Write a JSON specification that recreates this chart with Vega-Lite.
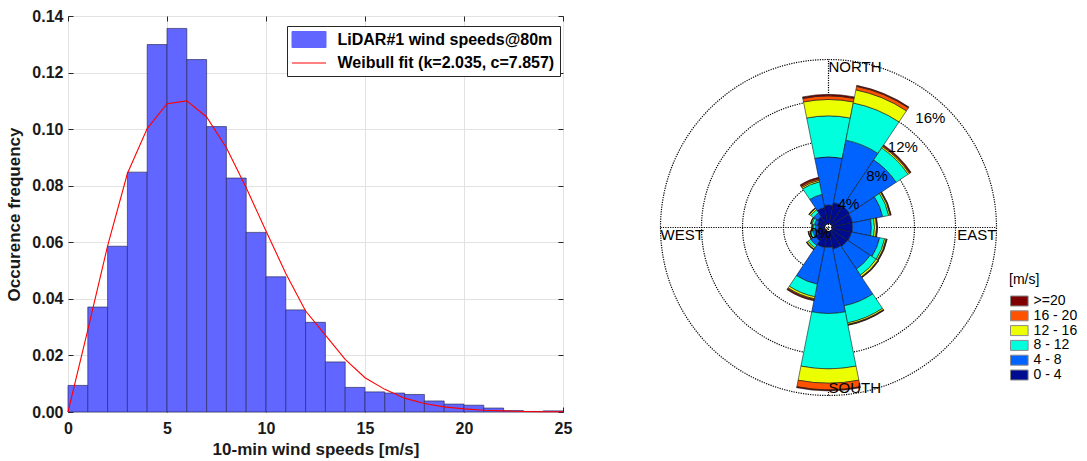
{
  "$schema": "https://vega.github.io/schema/vega-lite/v6.json",
  "background": "white",
  "padding": {"left": 5, "top": 7, "right": 5, "bottom": 5},
  "bounds": "flush",
  "spacing": 54,
  "config": {
    "font": "Liberation Sans",
    "view": {"stroke": null},
    "axis": {"labelFont": "Liberation Sans", "titleFont": "Liberation Sans", "labelColor": "#1a1a1a", "titleColor": "#1a1a1a", "tickColor": "#262626", "gridColor": "#e2e2e2", "gridWidth": 1}
  },
  "resolve": {"scale": {"color": "independent"}, "legend": {"color": "independent"}},
  "datasets": {
    "hist": [
      {"x0": 0, "x1": 1, "freq": 0.0094}, {"x0": 1, "x1": 2, "freq": 0.0371}, {"x0": 2, "x1": 3, "freq": 0.0586},
      {"x0": 3, "x1": 4, "freq": 0.0848}, {"x0": 4, "x1": 5, "freq": 0.1299}, {"x0": 5, "x1": 6, "freq": 0.1356},
      {"x0": 6, "x1": 7, "freq": 0.1246}, {"x0": 7, "x1": 8, "freq": 0.1009}, {"x0": 8, "x1": 9, "freq": 0.0827},
      {"x0": 9, "x1": 10, "freq": 0.0635}, {"x0": 10, "x1": 11, "freq": 0.0478}, {"x0": 11, "x1": 12, "freq": 0.0361},
      {"x0": 12, "x1": 13, "freq": 0.0317}, {"x0": 13, "x1": 14, "freq": 0.0177}, {"x0": 14, "x1": 15, "freq": 0.0087},
      {"x0": 15, "x1": 16, "freq": 0.0071}, {"x0": 16, "x1": 17, "freq": 0.0067}, {"x0": 17, "x1": 18, "freq": 0.0062},
      {"x0": 18, "x1": 19, "freq": 0.0039}, {"x0": 19, "x1": 20, "freq": 0.0028}, {"x0": 20, "x1": 21, "freq": 0.0024},
      {"x0": 21, "x1": 22, "freq": 0.0014}, {"x0": 22, "x1": 23, "freq": 0.0005}, {"x0": 23, "x1": 24, "freq": 0.0002},
      {"x0": 24, "x1": 25, "freq": 0.0004}
    ],
    "fit": [
      {"ws": 0, "pdf": 0}, {"ws": 1, "pdf": 0.029}, {"ws": 2, "pdf": 0.0587}, {"ws": 3, "pdf": 0.0843},
      {"ws": 4, "pdf": 0.1002}, {"ws": 5, "pdf": 0.109}, {"ws": 6, "pdf": 0.110}, {"ws": 7, "pdf": 0.1043},
      {"ws": 8, "pdf": 0.0934}, {"ws": 9, "pdf": 0.0793}, {"ws": 10, "pdf": 0.064}, {"ws": 11, "pdf": 0.049},
      {"ws": 12, "pdf": 0.0357}, {"ws": 13, "pdf": 0.0272}, {"ws": 14, "pdf": 0.0186}, {"ws": 15, "pdf": 0.0121},
      {"ws": 16, "pdf": 0.008}, {"ws": 17, "pdf": 0.0049}, {"ws": 18, "pdf": 0.003}, {"ws": 19, "pdf": 0.0018},
      {"ws": 20, "pdf": 0.0011}, {"ws": 21, "pdf": 0.0006}, {"ws": 22, "pdf": 0.0004}, {"ws": 23, "pdf": 0.0002},
      {"ws": 24, "pdf": 0.0001}, {"ws": 25, "pdf": 0.0001}
    ],
    "rose": [
      {"d": 0, "b": "0 - 4", "k": 0, "p": 1.8}, {"d": 0, "b": "4 - 8", "k": 1, "p": 4.7}, {"d": 0, "b": "8 - 12", "k": 2, "p": 4.0}, {"d": 0, "b": "12 - 16", "k": 3, "p": 1.6}, {"d": 0, "b": "16 - 20", "k": 4, "p": 0.35}, {"d": 0, "b": ">=20", "k": 5, "p": 0.15},
      {"d": 22.5, "b": "0 - 4", "k": 0, "p": 2.1}, {"d": 22.5, "b": "4 - 8", "k": 1, "p": 6.2}, {"d": 22.5, "b": "8 - 12", "k": 2, "p": 3.7}, {"d": 22.5, "b": "12 - 16", "k": 3, "p": 1.3}, {"d": 22.5, "b": "16 - 20", "k": 4, "p": 0.35}, {"d": 22.5, "b": ">=20", "k": 5, "p": 0.1},
      {"d": 45, "b": "0 - 4", "k": 0, "p": 2.1}, {"d": 45, "b": "4 - 8", "k": 1, "p": 5.45}, {"d": 45, "b": "8 - 12", "k": 2, "p": 1.4}, {"d": 45, "b": "12 - 16", "k": 3, "p": 0.15}, {"d": 45, "b": "16 - 20", "k": 4, "p": 0.1}, {"d": 45, "b": ">=20", "k": 5, "p": 0.1},
      {"d": 67.5, "b": "0 - 4", "k": 0, "p": 2.0}, {"d": 67.5, "b": "4 - 8", "k": 1, "p": 3.0}, {"d": 67.5, "b": "8 - 12", "k": 2, "p": 0.6}, {"d": 67.5, "b": "12 - 16", "k": 3, "p": 0.15}, {"d": 67.5, "b": "16 - 20", "k": 4, "p": 0.05}, {"d": 67.5, "b": ">=20", "k": 5, "p": 0.05},
      {"d": 90, "b": "0 - 4", "k": 0, "p": 1.95}, {"d": 90, "b": "4 - 8", "k": 1, "p": 1.85}, {"d": 90, "b": "8 - 12", "k": 2, "p": 0.3}, {"d": 90, "b": "12 - 16", "k": 3, "p": 0.2}, {"d": 90, "b": "16 - 20", "k": 4, "p": 0.05}, {"d": 90, "b": ">=20", "k": 5, "p": 0.05},
      {"d": 112.5, "b": "0 - 4", "k": 0, "p": 1.9}, {"d": 112.5, "b": "4 - 8", "k": 1, "p": 2.8}, {"d": 112.5, "b": "8 - 12", "k": 2, "p": 0.5}, {"d": 112.5, "b": "12 - 16", "k": 3, "p": 0.15}, {"d": 112.5, "b": "16 - 20", "k": 4, "p": 0.05}, {"d": 112.5, "b": ">=20", "k": 5, "p": 0.05},
      {"d": 135, "b": "0 - 4", "k": 0, "p": 1.85}, {"d": 135, "b": "4 - 8", "k": 1, "p": 2.65}, {"d": 135, "b": "8 - 12", "k": 2, "p": 0.7}, {"d": 135, "b": "12 - 16", "k": 3, "p": 0.2}, {"d": 135, "b": "16 - 20", "k": 4, "p": 0.05}, {"d": 135, "b": ">=20", "k": 5, "p": 0.05},
      {"d": 157.5, "b": "0 - 4", "k": 0, "p": 1.75}, {"d": 157.5, "b": "4 - 8", "k": 1, "p": 5.65}, {"d": 157.5, "b": "8 - 12", "k": 2, "p": 1.7}, {"d": 157.5, "b": "12 - 16", "k": 3, "p": 0.15}, {"d": 157.5, "b": "16 - 20", "k": 4, "p": 0.05}, {"d": 157.5, "b": ">=20", "k": 5, "p": 0.05},
      {"d": 180, "b": "0 - 4", "k": 0, "p": 1.55}, {"d": 180, "b": "4 - 8", "k": 1, "p": 6.45}, {"d": 180, "b": "8 - 12", "k": 2, "p": 5.4}, {"d": 180, "b": "12 - 16", "k": 3, "p": 1.4}, {"d": 180, "b": "16 - 20", "k": 4, "p": 0.65}, {"d": 180, "b": ">=20", "k": 5, "p": 0.1},
      {"d": 202.5, "b": "0 - 4", "k": 0, "p": 1.6}, {"d": 202.5, "b": "4 - 8", "k": 1, "p": 3.65}, {"d": 202.5, "b": "8 - 12", "k": 2, "p": 1.25}, {"d": 202.5, "b": "12 - 16", "k": 3, "p": 0.2}, {"d": 202.5, "b": "16 - 20", "k": 4, "p": 0.1}, {"d": 202.5, "b": ">=20", "k": 5, "p": 0.1},
      {"d": 225, "b": "0 - 4", "k": 0, "p": 1.15}, {"d": 225, "b": "4 - 8", "k": 1, "p": 0.55}, {"d": 225, "b": "8 - 12", "k": 2, "p": 0.3}, {"d": 225, "b": "12 - 16", "k": 3, "p": 0.15}, {"d": 225, "b": "16 - 20", "k": 4, "p": 0.05}, {"d": 225, "b": ">=20", "k": 5, "p": 0.02},
      {"d": 247.5, "b": "0 - 4", "k": 0, "p": 0.8}, {"d": 247.5, "b": "4 - 8", "k": 1, "p": 0.4}, {"d": 247.5, "b": "8 - 12", "k": 2, "p": 0.25}, {"d": 247.5, "b": "12 - 16", "k": 3, "p": 0.15}, {"d": 247.5, "b": "16 - 20", "k": 4, "p": 0.03}, {"d": 247.5, "b": ">=20", "k": 5, "p": 0.02},
      {"d": 270, "b": "0 - 4", "k": 0, "p": 0.6}, {"d": 270, "b": "4 - 8", "k": 1, "p": 0.3}, {"d": 270, "b": "8 - 12", "k": 2, "p": 0.2}, {"d": 270, "b": "12 - 16", "k": 3, "p": 0.1}, {"d": 270, "b": "16 - 20", "k": 4, "p": 0.02}, {"d": 270, "b": ">=20", "k": 5, "p": 0.02},
      {"d": 292.5, "b": "0 - 4", "k": 0, "p": 0.7}, {"d": 292.5, "b": "4 - 8", "k": 1, "p": 0.3}, {"d": 292.5, "b": "8 - 12", "k": 2, "p": 0.25}, {"d": 292.5, "b": "12 - 16", "k": 3, "p": 0.1}, {"d": 292.5, "b": "16 - 20", "k": 4, "p": 0.03}, {"d": 292.5, "b": ">=20", "k": 5, "p": 0.02},
      {"d": 315, "b": "0 - 4", "k": 0, "p": 0.9}, {"d": 315, "b": "4 - 8", "k": 1, "p": 0.45}, {"d": 315, "b": "8 - 12", "k": 2, "p": 0.35}, {"d": 315, "b": "12 - 16", "k": 3, "p": 0.15}, {"d": 315, "b": "16 - 20", "k": 4, "p": 0.05}, {"d": 315, "b": ">=20", "k": 5, "p": 0.02},
      {"d": 337.5, "b": "0 - 4", "k": 0, "p": 1.6}, {"d": 337.5, "b": "4 - 8", "k": 1, "p": 1.3}, {"d": 337.5, "b": "8 - 12", "k": 2, "p": 1.25}, {"d": 337.5, "b": "12 - 16", "k": 3, "p": 0.15}, {"d": 337.5, "b": "16 - 20", "k": 4, "p": 0.15}, {"d": 337.5, "b": ">=20", "k": 5, "p": 0.15}
    ],
    "rings": [{"r": 4}, {"r": 8}, {"r": 12}, {"r": 16}],
    "cross": [{"x1": -16, "x2": 16, "y1": 0, "y2": 0}, {"x1": 0, "x2": 0, "y1": -16, "y2": 16}],
    "pcts": [{"t": "0%", "a": 234, "r": 0.6}, {"t": "4%", "a": 41, "r": 2.6}, {"t": "8%", "a": 43.4, "r": 6.5}, {"t": "12%", "a": 42.7, "r": 10.3}, {"t": "16%", "a": 42.9, "r": 14.2}],
    "dirs": [{"t": "NORTH", "a": 0, "r": 16}, {"t": "EAST", "a": 90, "r": 16}, {"t": "SOUTH", "a": 180, "r": 16}, {"t": "WEST", "a": 270, "r": 16}]
  },
  "hconcat": [
    {
      "width": 495,
      "height": 396,
      "view": {"stroke": "#262626", "strokeWidth": 1},
      "resolve": {"axis": {"x": "independent", "y": "independent"}},
      "layer": [
        {
          "data": {"name": "hist"},
          "mark": {"type": "bar", "stroke": "#2a2a60", "strokeWidth": 0.8, "strokeOpacity": 0.85},
          "encoding": {
            "x": {"field": "x0", "type": "quantitative", "scale": {"domain": [0, 25], "nice": false, "zero": false},
                  "axis": {"orient": "bottom", "values": [0, 5, 10, 15, 20, 25], "title": "10-min wind speeds [m/s]", "labelFlush": false, "grid": true, "domain": false, "tickSize": -5, "labelPadding": 13, "labelFontSize": 16, "labelFontWeight": "bold", "titleFontSize": 17, "titleFontWeight": "bold", "titlePadding": 5}},
            "x2": {"field": "x1"},
            "y": {"field": "freq", "type": "quantitative", "scale": {"domain": [0, 0.14], "nice": false},
                  "axis": {"orient": "left", "values": [0, 0.02, 0.04, 0.06, 0.08, 0.1, 0.12, 0.14], "format": ".2f", "title": "Occurence frequency", "grid": true, "domain": false, "tickSize": -5, "labelPadding": 10, "labelFontSize": 16, "labelFontWeight": "bold", "titleFontSize": 17, "titleFontWeight": "bold", "titlePadding": 8}},
            "y2": {"datum": 0},
            "color": {"datum": "LiDAR#1 wind speeds@80m", "type": "nominal",
                      "scale": {"domain": ["LiDAR#1 wind speeds@80m", "Weibull fit (k=2.035, c=7.857)"], "range": ["#6066ff", "#ff0000"]},
                      "legend": {"orient": "none", "legendX": 219, "legendY": 10, "title": null, "labelFontSize": 16, "labelFontWeight": "bold", "labelColor": "black", "labelLimit": 0, "strokeColor": "#262626", "fillColor": "white", "padding": 5, "symbolSize": 256, "symbolStrokeWidth": 1, "symbolOffset": 8.5, "labelOffset": 20, "rowPadding": 4.5, "symbolOpacity": 1,
                                 "symbolType": {"expr": "datum.value === 'LiDAR#1 wind speeds@80m' ? 'M-2.125,-1H2.125V1H-2.125Z' : 'M-2.125,0H2.125'"},
                                 "symbolStrokeColor": {"expr": "datum.value === 'LiDAR#1 wind speeds@80m' ? '#2a2a60' : '#ff0000'"}}}
          }
        },
        {
          "data": {"name": "fit"},
          "mark": {"type": "line", "strokeWidth": 1.1},
          "encoding": {
            "x": {"field": "ws", "type": "quantitative", "axis": {"orient": "top", "values": [0, 5, 10, 15, 20, 25], "labels": false, "title": null, "grid": false, "domain": false, "tickSize": -5}},
            "y": {"field": "pdf", "type": "quantitative", "axis": {"orient": "right", "values": [0, 0.02, 0.04, 0.06, 0.08, 0.1, 0.12, 0.14], "labels": false, "title": null, "grid": false, "domain": false, "tickSize": -5}},
            "color": {"datum": "Weibull fit (k=2.035, c=7.857)", "type": "nominal"}
          }
        }
      ]
    },
    {
      "width": 423,
      "height": 423,
      "view": {"stroke": null},
      "layer": [
        {
          "data": {"name": "rings"},
          "mark": {"type": "arc", "fill": null, "filled": false, "stroke": "#000000", "strokeWidth": 1.2, "strokeDash": [1.2, 1.2]},
          "encoding": {
            "theta": {"datum": 0, "type": "quantitative", "stack": false, "scale": {"type": "linear", "domain": [0, 360], "range": [0, 6.283185307179586]}},
            "theta2": {"datum": 360},
            "radius": {"field": "r", "type": "quantitative", "stack": false, "scale": {"type": "linear", "domain": [0, 16], "range": [4, 168], "zero": false, "nice": false}}
          }
        },
        {
          "data": {"name": "cross"},
          "mark": {"type": "rule", "stroke": "#000000", "strokeWidth": 1.2, "strokeDash": [1.2, 1.2]},
          "encoding": {
            "x": {"field": "x1", "type": "quantitative", "scale": {"domain": [-16, 16], "range": [43.5, 379.5]}, "axis": null},
            "x2": {"field": "x2"},
            "y": {"field": "y1", "type": "quantitative", "scale": {"domain": [-16, 16], "range": [379.5, 43.5]}, "axis": null},
            "y2": {"field": "y2"}
          }
        },
        {
          "data": {"name": "rose"},
          "transform": [
            {"stack": "p", "groupby": ["d"], "sort": [{"field": "k", "order": "ascending"}], "as": ["r0", "r1"]},
            {"calculate": "datum.d - 11.25", "as": "a0"},
            {"calculate": "datum.d + 11.25", "as": "a1"}
          ],
          "mark": {"type": "arc", "stroke": "#1a1a1a", "strokeWidth": 0.6},
          "encoding": {
            "theta": {"field": "a0", "type": "quantitative", "stack": false, "scale": {"type": "linear", "domain": [0, 360], "range": [0, 6.283185307179586]}},
            "theta2": {"field": "a1"},
            "radius": {"field": "r1", "type": "quantitative", "stack": false, "scale": {"type": "linear", "domain": [0, 16], "range": [4, 168], "zero": false, "nice": false}},
            "radius2": {"field": "r0"},
            "color": {"field": "b", "type": "nominal",
                      "scale": {"domain": [">=20", "16 - 20", "12 - 16", "8 - 12", "4 - 8", "0 - 4"], "range": ["#7f0000", "#ff5200", "#ecff00", "#00ffdc", "#0062ff", "#000c8f"]},
                      "legend": {"orient": "none", "legendX": 392, "legendY": 257, "title": "[m/s]", "titleFontSize": 14, "titleFontWeight": "normal", "titleColor": "black", "titlePadding": 7, "labelFontSize": 14, "labelColor": "black", "symbolType": "M-1.76,-1H1.76V1H-1.76Z", "symbolSize": 100, "symbolStrokeWidth": 1, "symbolStrokeColor": "#8a8a8a", "symbolOffset": 3.3, "labelOffset": 7.3, "rowPadding": 0.8, "padding": 0, "symbolOpacity": 1}}
          }
        },
        {
          "data": {"name": "pcts"},
          "mark": {"type": "text", "fontSize": 15, "color": "black", "align": "center", "baseline": "middle"},
          "encoding": {
            "theta": {"field": "a", "type": "quantitative", "stack": false, "scale": {"type": "linear", "domain": [0, 360], "range": [0, 6.283185307179586]}},
            "radius": {"field": "r", "type": "quantitative", "stack": false, "scale": {"type": "linear", "domain": [0, 16], "range": [4, 168], "zero": false, "nice": false}},
            "text": {"field": "t"}
          }
        },
        {
          "data": {"name": "dirs"},
          "transform": [{"filter": "datum.t == 'NORTH' || datum.t == 'WEST'"}],
          "mark": {"type": "text", "fontSize": 15, "color": "black", "align": "left", "baseline": "top"},
          "encoding": {
            "theta": {"field": "a", "type": "quantitative", "stack": false, "scale": {"type": "linear", "domain": [0, 360], "range": [0, 6.283185307179586]}},
            "radius": {"field": "r", "type": "quantitative", "stack": false, "scale": {"type": "linear", "domain": [0, 16], "range": [4, 168], "zero": false, "nice": false}},
            "text": {"field": "t"}
          }
        },
        {
          "data": {"name": "dirs"},
          "transform": [{"filter": "datum.t == 'EAST'"}],
          "mark": {"type": "text", "fontSize": 15, "color": "black", "align": "right", "baseline": "top"},
          "encoding": {
            "theta": {"field": "a", "type": "quantitative", "stack": false, "scale": {"type": "linear", "domain": [0, 360], "range": [0, 6.283185307179586]}},
            "radius": {"field": "r", "type": "quantitative", "stack": false, "scale": {"type": "linear", "domain": [0, 16], "range": [4, 168], "zero": false, "nice": false}},
            "text": {"field": "t"}
          }
        },
        {
          "data": {"name": "dirs"},
          "transform": [{"filter": "datum.t == 'SOUTH'"}],
          "mark": {"type": "text", "fontSize": 15, "color": "black", "align": "left", "baseline": "bottom"},
          "encoding": {
            "theta": {"field": "a", "type": "quantitative", "stack": false, "scale": {"type": "linear", "domain": [0, 360], "range": [0, 6.283185307179586]}},
            "radius": {"field": "r", "type": "quantitative", "stack": false, "scale": {"type": "linear", "domain": [0, 16], "range": [4, 168], "zero": false, "nice": false}},
            "text": {"field": "t"}
          }
        }
      ]
    }
  ]
}
